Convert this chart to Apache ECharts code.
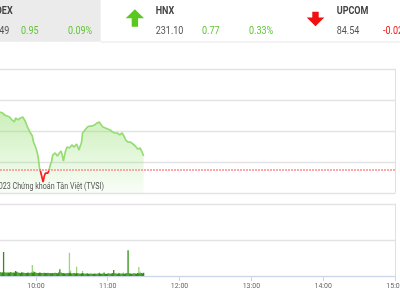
<!DOCTYPE html>
<html>
<head>
<meta charset="utf-8">
<script src="https://cdn.jsdelivr.net/npm/echarts@6/dist/echarts.min.js"></script>
<style>
html,body{margin:0;padding:0;background:#fff;}
#chart{width:400px;height:300px;}
</style>
</head>
<body>
<div id="chart"></div>
<script>
// ---- header data ----
const indexNames = ['VNINDEX', 'HNX', 'UPCOM'];
const indexValues = ['1,055.49', '231.10', '84.54'];
const indexChanges = ['0.95', '0.77', '-0.02'];
const indexPercents = ['0.09%', '0.33%', '-0.02%'];

// ---- intraday price (one point per minute from 09:30 to 11:30) ----
const sessionStartMinute = 570; // 09:30
const priceValues = [
  1059.03, 1059.01, 1058.95, 1058.87, 1058.79, 1058.87, 1058.71, 1058.63, 1058.63, 1058.47,
  1058.39, 1058.47, 1058.23, 1058.55, 1058.39, 1058.39, 1058.55, 1058.55, 1058.55, 1058.63,
  1058.47, 1058.31, 1058.15, 1057.82, 1057.74, 1057.42, 1057.26, 1057.10, 1056.61, 1056.37,
  1056.13, 1055.81, 1055.32, 1054.52, 1054.19, 1053.79, 1053.39, 1053.87, 1054.11, 1054.27,
  1054.11, 1054.35, 1054.76, 1055.00, 1055.56, 1055.65, 1055.73, 1055.81, 1055.48, 1055.65,
  1055.81, 1055.89, 1055.56, 1055.08, 1055.56, 1055.97, 1056.21, 1056.05, 1056.13, 1056.21,
  1056.37, 1056.29, 1056.21, 1056.13, 1056.45, 1056.21, 1055.97, 1056.29, 1056.53, 1057.34,
  1057.42, 1057.58, 1057.74, 1057.82, 1057.90, 1057.90, 1057.98, 1057.90, 1057.98, 1057.98,
  1058.06, 1058.15, 1058.15, 1058.23, 1058.06, 1057.90, 1057.82, 1057.90, 1057.74, 1057.74,
  1057.66, 1057.74, 1057.58, 1057.58, 1057.42, 1057.50, 1057.34, 1057.42, 1057.34, 1057.18,
  1057.18, 1057.26, 1057.34, 1057.18, 1057.02, 1056.77, 1056.69, 1056.61, 1056.69, 1056.61,
  1056.53, 1056.45, 1056.37, 1056.29, 1056.13, 1056.05, 1056.21, 1056.13, 1055.97, 1055.73,
  1055.48
];
const referencePrice = 1054.4;

// ---- volume (thousand shares per minute) ----
const darkVolume = [
  110, 95, 100, 667, 105, 90, 100, 85, 95, 110,
  90, 100, 95, 139, 120, 100, 90, 85, 95, 100,
  90, 80, 85, 95, 90, 85, 100, 90, 95, 110,
  90, 85, 80, 95, 90, 85, 80, 90, 85, 80,
  75, 80, 85, 75, 80, 85, 90, 80, 75, 95,
  186, 100, 85, 80, 75, 70, 80, 75, 90, 85,
  70, 75, 80, 70, 85, 75, 70, 65, 75, 80,
  70, 65, 70, 75, 65, 60, 70, 65, 60, 70,
  65, 60, 70, 75, 65, 60, 70, 75, 65, 60,
  70, 75, 65, 70, 80, 167, 75, 70, 65, 70,
  75, 65, 70, 60, 65, 70, 80, 714, 75, 70,
  65, 70, 75, 70, 65, 80, 75, 70, 85, 75,
  90
];
const lightVolume = [
  0, 0, 0, 0, 0, 0, 0, 110, 0, 0,
  0, 0, 0, 0, 0, 0, 0, 0, 115, 0,
  0, 0, 0, 0, 0, 0, 0, 306, 139, 0,
  0, 0, 0, 0, 0, 0, 0, 0, 0, 0,
  100, 0, 0, 0, 0, 0, 0, 0, 0, 0,
  0, 0, 0, 0, 0, 0, 0, 0, 647, 150,
  0, 0, 0, 0, 258, 0, 0, 0, 0, 139,
  0, 0, 0, 0, 0, 0, 0, 0, 0, 0,
  0, 0, 0, 100, 0, 0, 0, 111, 0, 0,
  0, 0, 0, 0, 0, 0, 0, 0, 0, 92,
  0, 0, 0, 95, 0, 0, 0, 0, 0, 0,
  0, 0, 0, 0, 0, 0, 250, 120, 0, 0,
  0
];

// ---- time axis ticks ----
const axisStartMinute = 570;
const axisEndMinute = 900;
const tickMinutes = [600, 660, 720, 780, 840, 900];
const tickLabels = ['10:00', '11:00', '12:00', '13:00', '14:00', '15:00'];

const watermarkText = '© 2023 Chứng khoán Tân Việt (TVSI)';

const priceData = priceValues.map((v, i) => [sessionStartMinute + i, v]);
const darkData = darkVolume.map((v, i) => [sessionStartMinute + i, v]);
const lightData = lightVolume.map((v, i) => [sessionStartMinute + i, v]);

// ---- header graphics ----
const GREEN_TXT = '#62c436';
const RED_TXT = '#f01414';
const graphics = [];
graphics.push({type: 'rect', shape: {x: -60, y: 0, width: 160.7, height: 41.7}, style: {fill: '#ebebeb'}, z: 1});
graphics.push({type: 'line', shape: {x1: 100.7, y1: 42, x2: 400, y2: 42}, style: {stroke: '#e6e6e6', lineWidth: 1}, z: 1});
const blockX = [-25.3, 155.7, 336.7];
indexNames.forEach((name, i) => {
  const bx = blockX[i];
  const up = indexChanges[i].charAt(0) !== '-';
  const col = up ? GREEN_TXT : RED_TXT;
  const txt = (t, x, y, fill, bold) => ({
    type: 'text', x: x, y: y, scaleX: 0.82, z: 5,
    style: {text: t, fill: fill, fontSize: 11, fontFamily: 'Roboto', fontWeight: bold ? 'bold' : 'normal', align: 'left', verticalAlign: 'middle'}
  });
  graphics.push(txt(name, bx, 11.5, '#444', true));
  graphics.push(txt(indexValues[i], bx, 31, '#555', false));
  graphics.push(txt(indexChanges[i], bx + 46.3, 31, col, false));
  graphics.push(txt(indexPercents[i], bx + 93.3, 31, col, false));
  const ax = bx - 30;
  let pts;
  if (up) {
    pts = [[ax + 9.2, 9.3], [ax + 18.3, 18.3], [ax + 12.4, 18.3], [ax + 12.4, 26.7], [ax + 6, 26.7], [ax + 6, 18.3], [ax, 18.3]];
  } else {
    pts = [[ax + 8.8, 26.2], [ax + 17.6, 17.5], [ax + 12, 17.5], [ax + 12, 11.7], [ax + 5.6, 11.7], [ax + 5.6, 17.5], [ax, 17.5]];
  }
  graphics.push({type: 'polygon', shape: {points: pts}, style: {fill: up ? '#5ac81e' : '#f01010'}, z: 5});
});
graphics.push({
  type: 'text', x: 104, y: 187, scaleX: 0.83, z: 10,
  style: {text: watermarkText, fill: '#555', fontSize: 8.6, fontFamily: 'Roboto', align: 'right', verticalAlign: 'middle'}
});

const chart = echarts.init(document.getElementById('chart'), null, {renderer: 'canvas'});
chart.setOption({
  animation: false,
  backgroundColor: '#fff',
  graphic: graphics,
  grid: [
    {left: 0, right: 5, top: 69, height: 124, containLabel: false, outerBoundsMode: 'none'},
    {left: 0, right: 5, top: 204, height: 72, containLabel: false, outerBoundsMode: 'none'}
  ],
  xAxis: [
    {type: 'value', gridIndex: 0, min: axisStartMinute, max: axisEndMinute, show: false, splitLine: {show: false}},
    {type: 'value', gridIndex: 1, min: axisStartMinute, max: axisEndMinute,
      axisLine: {show: true, lineStyle: {color: '#ccd6eb', width: 1}},
      axisTick: {show: true, length: 5, lineStyle: {color: '#ccd6eb'}, customValues: tickMinutes},
      splitLine: {show: false},
      axisLabel: {fontSize: 7, color: '#666', fontFamily: 'Roboto', margin: 7, customValues: tickMinutes,
        hideOverlap: false,
        formatter: (v) => { const k = tickMinutes.indexOf(v); return k >= 0 ? tickLabels[k] : ''; }}
    }
  ],
  yAxis: [
    {type: 'value', gridIndex: 0, position: 'right', min: 1052.5, max: 1062.5, interval: 2.5,
      axisLine: {show: true, lineStyle: {color: '#d9e1eb'}}, axisTick: {show: false}, axisLabel: {show: false},
      splitLine: {show: true, lineStyle: {color: '#e3e3e3', width: 1.3}}},
    {type: 'value', gridIndex: 1, position: 'right', min: 0, max: 2000, interval: 1000,
      axisLine: {show: true, lineStyle: {color: '#d9e1eb'}}, axisTick: {show: false}, axisLabel: {show: false},
      splitLine: {show: true, lineStyle: {color: '#e3e3e3', width: 1.3}}}
  ],
  visualMap: {
    type: 'piecewise', show: false, seriesIndex: 0, dimension: 1,
    pieces: [
      {gte: 1000, lt: referencePrice, color: '#ff1a1a'},
      {gte: referencePrice, lte: 1100, color: '#95dc72'}
    ]
  },
  series: [
    {
      type: 'line', xAxisIndex: 0, yAxisIndex: 0, data: priceData, showSymbol: false, symbol: 'none',
      lineStyle: {width: 1.7},
      areaStyle: {color: {type: 'linear', x: 0, y: 0, x2: 0, y2: 1, colorStops: [
        {offset: 0, color: 'rgba(146,222,110,0.68)'}, {offset: 1, color: 'rgba(146,222,110,0.08)'}]}},
      markLine: {
        silent: true, symbol: ['none', 'none'], label: {show: false},
        lineStyle: {color: '#ff8a8a', type: [2, 1], width: 1.6},
        data: [{yAxis: referencePrice}]
      },
      z: 3
    },
    {type: 'bar', xAxisIndex: 1, yAxisIndex: 1, data: lightData, barWidth: 1.3, barGap: '-100%',
      itemStyle: {color: '#9bd47c'}},
    {type: 'bar', xAxisIndex: 1, yAxisIndex: 1, data: darkData, barWidth: 1.3, barGap: '-100%',
      itemStyle: {color: '#2f8f10'}}
  ]
});
</script>
</body>
</html>
